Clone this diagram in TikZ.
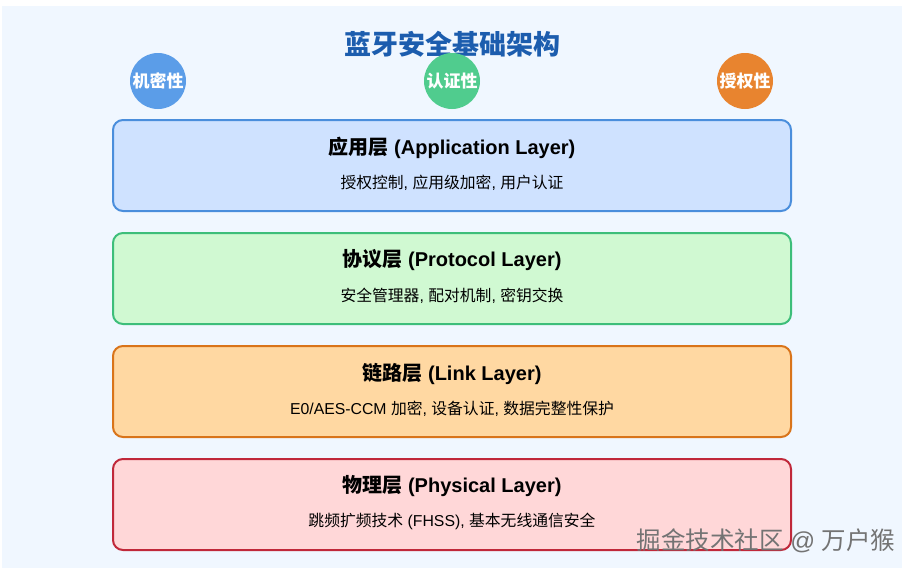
\documentclass[tikz,border=0pt]{standalone}
\usepackage{fontspec}
\setmainfont{Liberation Sans}
\newfontfamily\cjk{Noto Sans CJK SC}
\usetikzlibrary{positioning}

\definecolor{bgblue}{HTML}{F0F7FF}
\definecolor{titleblue}{HTML}{1C5DAE}
\definecolor{confblue}{HTML}{5B9DE8}
\definecolor{authgreen}{HTML}{50CC8E}
\definecolor{authzorange}{HTML}{E8842F}
\definecolor{appfill}{HTML}{CFE2FF}
\definecolor{appdraw}{HTML}{4A8EDC}
\definecolor{protofill}{HTML}{D0F9D2}
\definecolor{protodraw}{HTML}{3DBE7A}
\definecolor{linkfill}{HTML}{FFD8A2}
\definecolor{linkdraw}{HTML}{D9741A}
\definecolor{phyfill}{HTML}{FFD7D8}
\definecolor{phydraw}{HTML}{C0283A}

\newcommand{\zh}[1]{{\cjk #1}}

\begin{document}
\begin{tikzpicture}[
  x=1pt, y=-1pt,
  every node/.style={align=center, inner sep=0pt},
  layer/.style ={rectangle, draw, line width=2pt, rounded corners=10pt,
                 minimum width=678pt, minimum height=91pt, outer sep=0pt},
  badge/.style ={circle, minimum size=56pt, text=white,
                 font=\fontsize{17}{17}\selectfont\bfseries},
  head/.style  ={font=\fontsize{20}{20}\selectfont\bfseries},
  sub/.style   ={font=\fontsize{15.8}{16}\selectfont},
]

% Canvas
\useasboundingbox (0,0) rectangle (914,570);
\fill[bgblue] (2,6) rectangle (902,568);

% Title and badges
\node[font=\fontsize{27}{27}\selectfont\bfseries, text=titleblue] (title) at (452,44)
  {\zh{蓝牙安全基础架构}};
\node[badge, fill=confblue]    (conf)  at (158,81) {\zh{机密性}};
\node[badge, fill=authgreen]   (auth)  at (452,81) {\zh{认证性}};
\node[badge, fill=authzorange] (authz) at (745,81) {\zh{授权性}};

% Layers
\node[layer, fill=appfill, draw=appdraw]                         (app)   at (452,165.5) {};
\node[layer, fill=protofill, draw=protodraw, below=22pt of app]  (proto) {};
\node[layer, fill=linkfill, draw=linkdraw, below=22pt of proto]  (link)  {};
\node[layer, fill=phyfill, draw=phydraw, below=22pt of link]     (phy)   {};

\node[head] (app-t)   at ([yshift=18pt]app.center)   {\zh{应用层} (Application Layer)};
\node[sub]  (app-s)   at ([yshift=-17pt]app.center)  {\zh{授权控制}, \zh{应用级加密}, \zh{用户认证}};
\node[head] (proto-t) at ([yshift=18pt]proto.center) {\zh{协议层} (Protocol Layer)};
\node[sub]  (proto-s) at ([yshift=-17pt]proto.center){\zh{安全管理器}, \zh{配对机制}, \zh{密钥交换}};
\node[head] (link-t)  at ([yshift=18pt]link.center)  {\zh{链路层} (Link Layer)};
\node[sub]  (link-s)  at ([yshift=-17pt]link.center) {E0/AES-CCM \zh{加密}, \zh{设备认证}, \zh{数据完整性保护}};
\node[head] (phy-t)   at ([yshift=18pt]phy.center)   {\zh{物理层} (Physical Layer)};
\node[sub]  (phy-s)   at ([yshift=-17pt]phy.center)  {\zh{跳频扩频技术} (FHSS), \zh{基本无线通信安全}};

% Watermark
\node[font=\fontsize{24.5}{24.5}\selectfont, text=black!55] (mark) at (766,541)
  {\zh{掘金技术社区} @ \zh{万户猴}};

\end{tikzpicture}
\end{document}
